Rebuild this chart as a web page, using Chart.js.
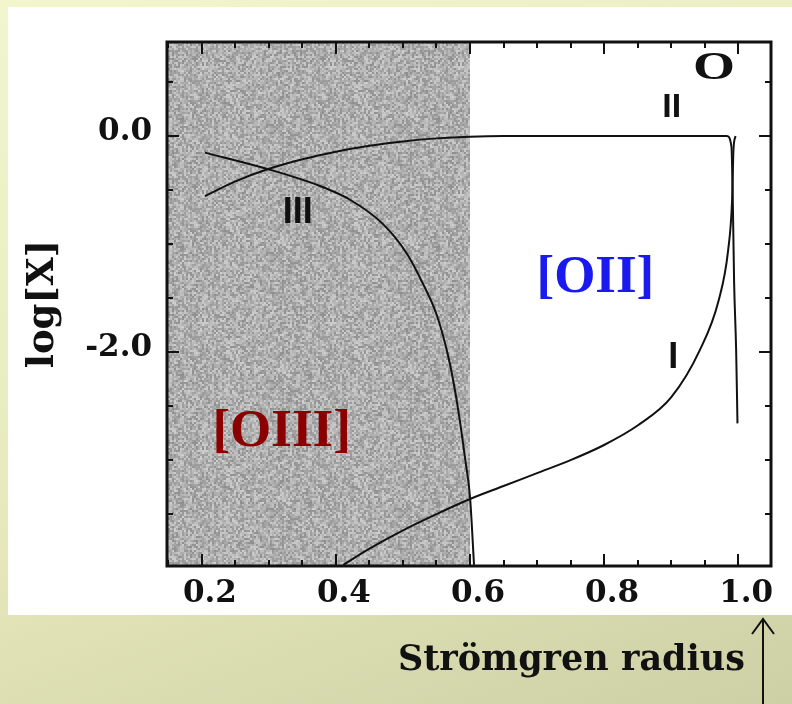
<!DOCTYPE html>
<html>
<head>
<meta charset="utf-8">
<script src="https://cdn.jsdelivr.net/npm/chart.js@4.4.1/dist/chart.umd.min.js"></script>
<style>
html, body { margin: 0; padding: 0; }
body {
    width: 792px; height: 704px; overflow: hidden; position: relative;
    background: linear-gradient(160deg, #f3f5cd 0%, #e6e8bc 55%, #cdd0a4 100%);
}
#paper { position: absolute; left: 8px; top: 7px; width: 784px; height: 608px; background: #fff; }
#chart { position: absolute; left: 0; top: 0; }
</style>
</head>
<body>
<div id="paper"></div>
<canvas id="chart" width="792" height="704"></canvas>
<script>
// axis ticks
const xTickValues = [0.2, 0.4, 0.6, 0.8, 1.0];
const xMinorTicks = [0.15, 0.25, 0.3, 0.35, 0.45, 0.5, 0.55, 0.65, 0.7, 0.75, 0.85, 0.9, 0.95];
const yTickValues = [0.0, -2.0];
const yMinorTicks = [0.5, -0.5, -1.0, -1.5, -2.5, -3.0, -3.5];
const shadeEnd = 0.6;

// O I fraction
const curveIx = [0.411, 0.45, 0.50, 0.55, 0.60, 0.65, 0.70, 0.75, 0.80, 0.85, 0.90, 0.943, 0.971, 0.985, 0.991, 0.993, 0.996];
const curveIy = [-3.97, -3.82, -3.65, -3.50, -3.36, -3.24, -3.12, -3.00, -2.86, -2.68, -2.42, -1.98, -1.52, -1.06, -0.59, -0.13, 0.0];

// O II fraction
const curveIIx = [0.2045, 0.25, 0.299, 0.35, 0.40, 0.45, 0.50, 0.55, 0.60, 0.65, 0.75, 0.85, 0.95, 0.983, 0.990, 0.992, 0.994, 0.997, 0.999];
const curveIIy = [-0.556, -0.42, -0.306, -0.215, -0.145, -0.09, -0.05, -0.022, -0.006, 0.0, 0.0, 0.0, 0.0, 0.0, -0.10, -0.59, -1.36, -1.98, -2.66];

// O III fraction
const curveIIIx = [0.2045, 0.299, 0.371, 0.421, 0.471, 0.506, 0.530, 0.550, 0.566, 0.576, 0.584, 0.593, 0.600, 0.606];
const curveIIIy = [-0.154, -0.308, -0.45, -0.59, -0.82, -1.09, -1.37, -1.65, -2.0, -2.3, -2.6, -3.0, -3.34, -3.97];

function toPoints(xs, ys) {
    return xs.map((x, i) => ({ x: x, y: ys[i] }));
}

// speckled grey like the scanned shading
function makeShadePattern(ctx) {
    const n = 64, cell = 2;
    const c = document.createElement('canvas');
    c.width = n * cell; c.height = n * cell;
    const g = c.getContext('2d');
    for (let j = 0; j < n; j++) {
        for (let i = 0; i < n; i++) {
            const h = Math.sin((j * n + i) * 12.9898 + 78.233) * 43758.5453;
            const f = h - Math.floor(h);
            const v = Math.round(174 + (f - 0.5) * 64);
            g.fillStyle = 'rgb(' + v + ',' + v + ',' + v + ')';
            g.fillRect(i * cell, j * cell, cell, cell);
        }
    }
    return ctx.createPattern(c, 'repeat');
}

const shadePlugin = {
    id: 'shade',
    beforeDatasetsDraw(chart) {
        const { ctx, chartArea, scales } = chart;
        const xEnd = scales.x.getPixelForValue(shadeEnd);
        ctx.save();
        ctx.fillStyle = makeShadePattern(ctx);
        ctx.fillRect(chartArea.left, chartArea.top, xEnd - chartArea.left, chartArea.bottom - chartArea.top);
        ctx.restore();
    }
};

function label(ctx, text, x, y, font, color, sx) {
    ctx.save();
    ctx.font = font;
    ctx.fillStyle = color;
    ctx.textAlign = 'center';
    ctx.textBaseline = 'middle';
    ctx.translate(x, y);
    ctx.scale(sx || 1, 1);
    ctx.fillText(text, 0, 0);
    ctx.restore();
}

const framePlugin = {
    id: 'frame',
    afterDatasetsDraw(chart) {
        const { ctx, chartArea: a, scales } = chart;
        const xs = scales.x, ys = scales.y;
        ctx.save();
        ctx.strokeStyle = '#111';
        ctx.lineWidth = 2;
        ctx.beginPath();
        xTickValues.concat(xMinorTicks).forEach(v => {
            const len = xTickValues.includes(v) ? 12 : 6;
            const px = Math.round(xs.getPixelForValue(v));
            ctx.moveTo(px, a.bottom); ctx.lineTo(px, a.bottom - len);
            ctx.moveTo(px, a.top); ctx.lineTo(px, a.top + len);
        });
        yTickValues.concat(yMinorTicks).forEach(v => {
            const len = yTickValues.includes(v) ? 12 : 6;
            const py = Math.round(ys.getPixelForValue(v));
            ctx.moveTo(a.left, py); ctx.lineTo(a.left + len, py);
            ctx.moveTo(a.right, py); ctx.lineTo(a.right - len, py);
        });
        ctx.stroke();
        ctx.lineWidth = 3;
        ctx.strokeRect(a.left, a.top, a.right - a.left, a.bottom - a.top);
        ctx.restore();

        const X = v => xs.getPixelForValue(v), Y = v => ys.getPixelForValue(v);
        label(ctx, 'O', X(0.964), Y(0.62), 'bold 40px "Liberation Serif"', '#111', 1.35);
        label(ctx, 'II', X(0.901), Y(0.26), 'bold 34px "Liberation Sans"', '#111');
        label(ctx, 'III', X(0.343), Y(-0.71), 'bold 36px "Liberation Sans"', '#111');
        label(ctx, 'I', X(0.903), Y(-2.06), 'bold 36px "Liberation Sans"', '#111');
        label(ctx, '[OII]', X(0.787), Y(-1.32), 'bold 53px "Liberation Serif"', '#1a1aee');
        label(ctx, '[OIII]', X(0.319), Y(-2.74), 'bold 53px "Liberation Serif"', '#8b0000');
    },
    afterDraw(chart) {
        const ctx = chart.ctx;
        ctx.save();
        ctx.font = 'bold 35px "DejaVu Serif"';
        ctx.fillStyle = '#111';
        ctx.textAlign = 'right';
        ctx.textBaseline = 'alphabetic';
        ctx.fillText('Strömgren radius', 745, 670);
        ctx.strokeStyle = '#111';
        ctx.lineWidth = 2;
        ctx.beginPath();
        ctx.moveTo(763, 619); ctx.lineTo(763, 704);
        ctx.moveTo(752, 634); ctx.lineTo(763, 619); ctx.lineTo(774, 634);
        ctx.stroke();
        ctx.restore();
    }
};

const lineStyle = {
    borderColor: '#111',
    borderWidth: 2,
    pointRadius: 0,
    fill: false,
    cubicInterpolationMode: 'monotone'
};

const tickFont = { family: 'DejaVu Serif', weight: 'bold', size: 31 };

new Chart(document.getElementById('chart'), {
    type: 'line',
    data: {
        datasets: [
            Object.assign({ label: 'I', data: toPoints(curveIx, curveIy) }, lineStyle),
            Object.assign({ label: 'II', data: toPoints(curveIIx, curveIIy) }, lineStyle),
            Object.assign({ label: 'III', data: toPoints(curveIIIx, curveIIIy) }, lineStyle)
        ]
    },
    options: {
        responsive: false,
        animation: false,
        devicePixelRatio: 1,
        layout: { padding: { top: 42, right: 21, left: 0, bottom: 0 } },
        plugins: { legend: { display: false }, tooltip: { enabled: false } },
        scales: {
            x: {
                type: 'linear',
                min: 0.148,
                max: 1.049,
                afterBuildTicks: s => { s.ticks = xTickValues.map(v => ({ value: v })); },
                afterFit: s => { s.height = 138; },
                grid: { display: false, drawTicks: false },
                border: { display: false },
                ticks: {
                    padding: 9,
                    labelOffset: 8,
                    autoSkip: false,
                    maxRotation: 0,
                    color: '#111',
                    font: tickFont,
                    callback: v => v.toFixed(1)
                }
            },
            y: {
                type: 'linear',
                min: -3.98,
                max: 0.87,
                afterBuildTicks: s => { s.ticks = yTickValues.map(v => ({ value: v })); },
                afterFit: s => { s.width = 167; },
                grid: { display: false, drawTicks: false },
                border: { display: false },
                ticks: {
                    padding: 15,
                    labelOffset: -4,
                    autoSkip: false,
                    color: '#111',
                    font: tickFont,
                    callback: v => v.toFixed(1)
                },
                title: {
                    display: true,
                    text: 'log[X]',
                    color: '#111',
                    font: { family: 'DejaVu Serif', weight: 'bold', size: 37 },
                    padding: { top: 21, bottom: 0 }
                }
            }
        }
    },
    plugins: [shadePlugin, framePlugin]
});
</script>
</body>
</html>
